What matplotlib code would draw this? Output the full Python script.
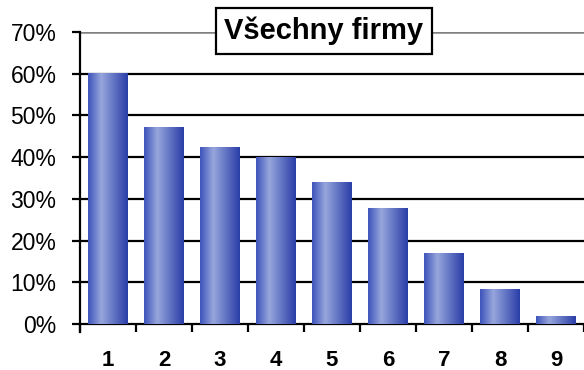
import numpy as np
import matplotlib
matplotlib.use("Agg")
import matplotlib.pyplot as plt
from matplotlib.colors import LinearSegmentedColormap
from matplotlib.ticker import PercentFormatter

plt.rcParams['font.family'] = ['Liberation Sans', 'DejaVu Sans']

# share of firms per category
categories = ['1', '2', '3', '4', '5', '6', '7', '8', '9']
shares = [0.60, 0.47, 0.422, 0.40, 0.34, 0.278, 0.168, 0.082, 0.019]
title = 'Všechny firmy'

fig = plt.figure(figsize=(5.84, 3.70), dpi=100)
ax = fig.add_axes([80 / 584, 46 / 370, 504 / 584, 292 / 370])

x = np.arange(len(categories))
bars = ax.bar(x, shares, width=0.7, color='none', edgecolor='none', zorder=3)

# horizontal shading across each bar
shade = LinearSegmentedColormap.from_list(
    'bar_shade', [(0, '#3f55bb'), (0.33, '#97a6dc'), (1, '#2a3ea8')])
grad = np.linspace(0, 1, 64).reshape(1, -1)
for b in bars:
    x0 = b.get_x()
    ax.imshow(grad, extent=[x0, x0 + b.get_width(), 0, b.get_height()],
              aspect='auto', cmap=shade, zorder=3, interpolation='bicubic')

ax.set_xlim(-0.5, len(categories) - 0.5)
ax.set_ylim(0, 0.7)

# gridlines: black inside, grey on top
for v in np.arange(0.1, 0.65, 0.1):
    ax.axhline(v, color='black', lw=1.6, zorder=1)
ax.axhline(0.7, color='#808080', lw=1.8, zorder=1)

for s in ['top', 'right']:
    ax.spines[s].set_visible(False)
ax.spines['left'].set_linewidth(1.6)
ax.spines['bottom'].set_linewidth(1.6)
ax.spines['left'].set_bounds(-0.02, 0.7)

ax.set_yticks(np.arange(0, 0.71, 0.1))
ax.yaxis.set_major_formatter(PercentFormatter(1.0, decimals=0))
ax.tick_params(axis='y', length=6, width=1.6, pad=11, labelsize=16.5)

ax.set_xticks(x)
ax.set_xticklabels(categories, fontweight='bold', fontsize=16)
ax.set_xticks(np.arange(-0.5, len(categories)), minor=True)
ax.tick_params(axis='x', which='major', length=0, pad=19)
ax.tick_params(axis='x', which='minor', length=6, width=1.6)

fig.text(324 / 584, 339 / 370, title, ha='center', va='center',
         fontsize=21, fontweight='bold',
         bbox=dict(boxstyle='square,pad=0.3', facecolor='white',
                   edgecolor='black', linewidth=1.6))

fig.savefig('out.png', dpi=100)
